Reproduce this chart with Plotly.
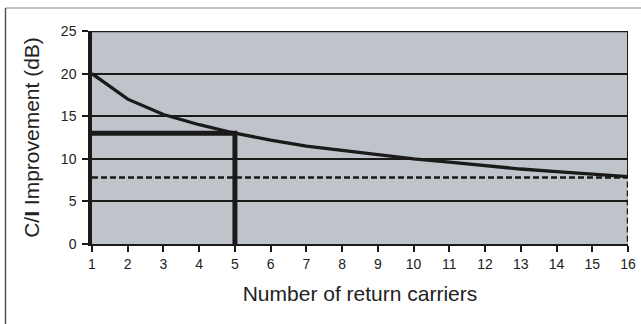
import plotly.graph_objects as go

carriers = list(range(1, 17))
improvement = [20, 17, 15.2, 14, 13, 12.2, 11.5, 11, 10.5, 10, 9.6, 9.2, 8.8, 8.5, 8.2, 7.9]
marked_carriers = 5
marked_level = 13
threshold_level = 7.8
x_ticks = list(range(1, 17))
y_ticks = [0, 5, 10, 15, 20, 25]

W, H = 641, 324
L, R, T, B = 92, 13, 31, 80
pw, ph = W - L - R, H - T - B

def px_x(p):
    return (p - L) / pw

def px_y(p):
    return 1 + (T - p) / ph

fig = go.Figure()
fig.add_trace(go.Scatter(x=carriers, y=improvement, mode="lines",
                         line=dict(color="#1a1a1a", width=3.3), showlegend=False))
fig.add_trace(go.Scatter(x=[carriers[0], marked_carriers, marked_carriers],
                         y=[marked_level, marked_level, 0], mode="lines",
                         line=dict(color="#1a1a1a", width=5), showlegend=False))
fig.add_trace(go.Scatter(x=[carriers[0], carriers[-1], carriers[-1]],
                         y=[threshold_level, threshold_level, 0], mode="lines",
                         line=dict(color="#1a1a1a", width=2.5, dash="6px,3px"), showlegend=False))

shapes = [
    dict(type="line", xref="x", yref="y", x0=1, x1=16, y0=25, y1=25,
         line=dict(color="#1a1a1a", width=2.5)),
    dict(type="line", xref="x", yref="y", x0=16, x1=16, y0=threshold_level, y1=25,
         line=dict(color="#1a1a1a", width=2)),
    dict(type="line", xref="paper", yref="paper", x0=px_x(5.5), x1=px_x(W + 5), y0=px_y(8), y1=px_y(8),
         line=dict(color="#888888", width=1.2)),
    dict(type="line", xref="paper", yref="paper", x0=px_x(5.5), x1=px_x(5.5), y0=px_y(H + 5), y1=px_y(8),
         line=dict(color="#555555", width=1.5)),
]

fig.update_layout(
    width=W, height=H,
    margin=dict(l=L, r=R, t=T, b=B, autoexpand=False),
    paper_bgcolor="white",
    plot_bgcolor="#bfc4ca",
    font=dict(family="Liberation Sans, Arial, sans-serif", color="#222222"),
    shapes=shapes,
    xaxis=dict(range=[1, 16], tickvals=x_ticks, ticks="outside", ticklen=6, tickwidth=2,
               tickcolor="#1a1a1a", showgrid=False, zeroline=False,
               showline=True, linecolor="#1a1a1a", linewidth=2,
               tickfont=dict(size=14), ticklabelstandoff=0,
               title=dict(text="Number of return carriers", font=dict(size=21), standoff=16)),
    yaxis=dict(range=[0, 25], tickvals=y_ticks, ticks="outside", ticklen=6, tickwidth=2,
               tickcolor="#1a1a1a", showgrid=True, gridcolor="#1a1a1a", gridwidth=2,
               zeroline=False, showline=True, linecolor="#1a1a1a", linewidth=3.5,
               tickfont=dict(size=14), ticklabelstandoff=3,
               title=dict(text="C/<b>I</b> Improvement (dB)", font=dict(size=21), standoff=17)),
)

fig.write_html("out.html", config={"displayModeBar": False},
               post_script="document.body.style.margin='0px';")
